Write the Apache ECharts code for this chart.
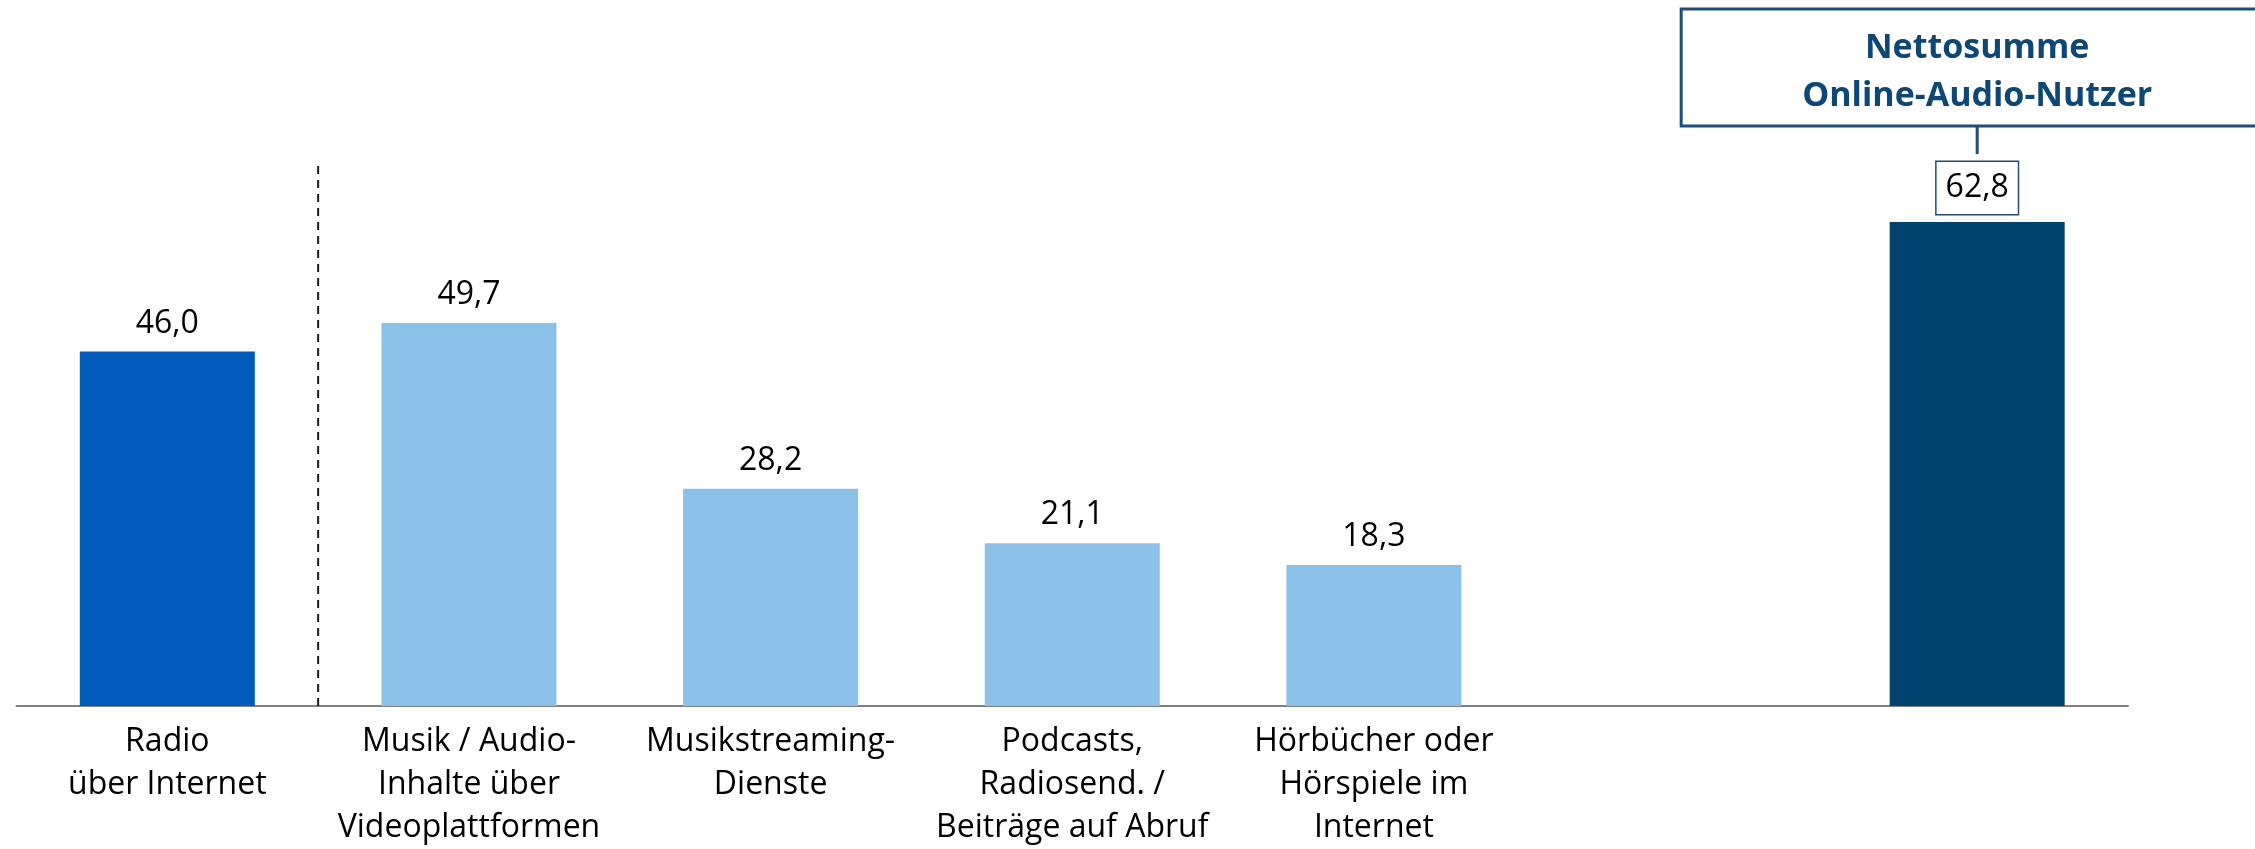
<!DOCTYPE html>
<html>
<head>
<meta charset="utf-8">
<script src="https://cdn.jsdelivr.net/npm/echarts@6/dist/echarts.min.js"></script>
<style>
html,body{margin:0;padding:0;background:#fff;}
#chart{width:2255px;height:849px;}
</style>
</head>
<body>
<div id="chart"></div>
<script>
const categories = [
  'Radio\nüber Internet',
  'Musik / Audio-\nInhalte über\nVideoplattformen',
  'Musikstreaming-\nDienste',
  'Podcasts,\nRadiosend. /\nBeiträge auf Abruf',
  'Hörbücher oder\nHörspiele im\nInternet',
  '',
  ''
];
const values = [46.0, 49.7, 28.2, 21.1, 18.3, null, 62.8];
const barColors = ['#005BBB', '#8BC0E8', '#8BC0E8', '#8BC0E8', '#8BC0E8', '#8BC0E8', '#00436F'];
const nettoTitle = ['Nettosumme', 'Online-Audio-Nutzer'];
const dividerX = [0.5, 0.5];
const dividerY = [0, 70.4];

const FONT = '"Open Sans", "Noto Sans", sans-serif';
const fmt = v => v.toFixed(1).replace('.', ',');

const chart = echarts.init(document.getElementById('chart'), null, {renderer: 'canvas'});

const option = {
  backgroundColor: '#ffffff',
  animation: false,
  grid: {left: 16.5, right: 127, top: 89.4, bottom: 137, containLabel: false},
  xAxis: [{
    type: 'category',
    data: categories,
    axisLine: {show: true, lineStyle: {color: '#808080', width: 2}},
    axisTick: {show: false},
    axisLabel: {
      interval: 0, color: '#000', fontFamily: FONT, fontSize: 32,
      lineHeight: 43, margin: 14
    },
    splitLine: {show: false}
  }, {
    type: 'value', min: -0.5, max: 6.5, show: false
  }],
  yAxis: {
    type: 'value', min: 0, max: 80, show: false, splitLine: {show: false}
  },
  series: [{
    type: 'bar',
    xAxisIndex: 0,
    barWidth: 175,
    data: values.map((v, i) => {
      const item = {value: v, itemStyle: {color: barColors[i]}};
      if (i === values.length - 1) {
        item.label = {
          show: true, position: 'top', distance: 8,
          formatter: p => fmt(p.value),
          color: '#000', fontFamily: FONT, fontSize: 32, lineHeight: 40,
          borderColor: '#1F4E79', borderWidth: 1.5, backgroundColor: '#fff',
          padding: [6, 9, 6, 9]
        };
      }
      return item;
    }),
    label: {
      show: true, position: 'top', distance: 12,
      formatter: p => p.value == null ? '' : fmt(p.value),
      color: '#000', fontFamily: FONT, fontSize: 32
    }
  }, {
    type: 'line',
    xAxisIndex: 1,
    data: dividerX.map((x, i) => [x, dividerY[i]]),
    symbol: 'none',
    lineStyle: {color: '#1a1a1a', width: 2, type: [8, 6]},
    silent: true,
    z: 1
  }]
};
chart.setOption(option);

// Annotation box above the Netto bar, anchored through the chart scale
const nIdx = values.length - 1;
const barTopPt = chart.convertToPixel({xAxisIndex: 0, yAxisIndex: 0}, [nIdx, values[nIdx]]);
const cx = barTopPt[0], ty = barTopPt[1];
const boxW = 592, boxBottom = ty - 96, boxTop = ty - 213;
chart.setOption({
  graphic: [{
    type: 'rect',
    shape: {x: cx - boxW / 2, y: boxTop, width: boxW, height: boxBottom - boxTop},
    style: {fill: '#fff', stroke: '#1F4E79', lineWidth: 3},
    z: 10
  }, {
    type: 'line',
    shape: {x1: cx, y1: boxBottom, x2: cx, y2: ty - 68},
    style: {stroke: '#1F4E79', lineWidth: 3},
    z: 10
  }, {
    type: 'text',
    x: cx, y: boxTop + 39,
    style: {
      text: nettoTitle[0], fill: '#0E4674', font: 'bold 34px ' + FONT,
      align: 'center', verticalAlign: 'middle'
    },
    z: 11
  }, {
    type: 'text',
    x: cx, y: boxTop + 87,
    style: {
      text: nettoTitle[1], fill: '#0E4674', font: 'bold 34px ' + FONT,
      align: 'center', verticalAlign: 'middle'
    },
    z: 11
  }]
});
</script>
</body>
</html>
